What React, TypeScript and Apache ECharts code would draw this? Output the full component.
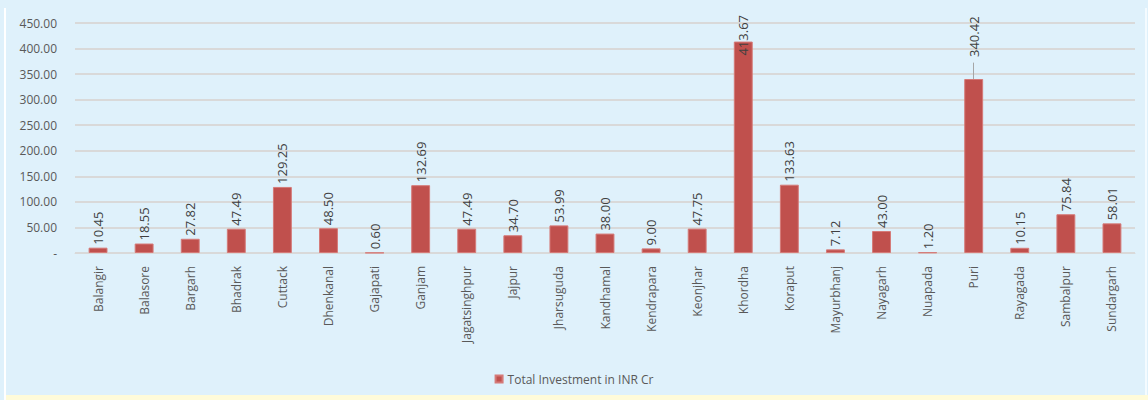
import React, { useEffect, useRef } from "react";
import * as echarts from "echarts";

const categories = [
  "Balangir", "Balasore", "Bargarh", "Bhadrak", "Cuttack", "Dhenkanal", "Gajapati",
  "Ganjam", "Jagatsinghpur", "Jajpur", "Jharsuguda", "Kandhamal", "Kendrapara",
  "Keonjhar", "Khordha", "Koraput", "Mayurbhanj", "Nayagarh", "Nuapada", "Puri",
  "Rayagada", "Sambalpur", "Sundargarh",
];
const investment = [
  10.45, 18.55, 27.82, 47.49, 129.25, 48.5, 0.6, 132.69, 47.49, 34.7, 53.99, 38.0,
  9.0, 47.75, 413.67, 133.63, 7.12, 43.0, 1.2, 340.42, 10.15, 75.84, 58.01,
];
const seriesName = "Total Investment in INR Cr";
// label distance adjustments (Excel moved these two labels)
const labelDistance: Record<string, number> = { Khordha: -14, Puri: 22 };

export default function App() {
  const ref = useRef<HTMLDivElement>(null);
  useEffect(() => {
    document.body.style.margin = "0";
    const chart = echarts.init(ref.current!, null, { renderer: "svg" });
    const font = "'Open Sans', Calibri, sans-serif";
    const data = investment.map((v, i) => {
      const d = labelDistance[categories[i]];
      return d === undefined ? v : { value: v, label: { distance: d } };
    });
    chart.setOption({
      animation: false,
      backgroundColor: "#dff1fb",
      textStyle: { fontFamily: font },
      graphic: [
        { type: "rect", shape: { x: 4, y: 8, width: 2, height: 392 }, style: { fill: "#ffffff" }, z: 0 },
        { type: "rect", shape: { x: 1145, y: 8, width: 2, height: 392 }, style: { fill: "#f4fbff" }, z: 0 },
        { type: "rect", shape: { x: 6, y: 395, width: 1142, height: 5 }, style: { fill: "#fffbd9" }, z: 0 },
      ],
      grid: { left: 75, right: 13, top: 23, bottom: 147, containLabel: false },
      legend: {
        bottom: 10,
        left: "center",
        itemWidth: 7,
        itemHeight: 7,
        icon: "rect",
        textStyle: { color: "#595959", fontSize: 12, fontFamily: font },
        data: [seriesName],
      },
      xAxis: {
        type: "category",
        data: categories,
        axisLine: { show: true, lineStyle: { color: "#d9d9d9", width: 1 } },
        axisTick: { show: false },
        axisLabel: {
          rotate: 90,
          interval: 0,
          color: "#595959",
          fontSize: 12,
          margin: 13,
          fontFamily: font,
        },
      },
      yAxis: {
        type: "value",
        min: 0,
        max: 450,
        interval: 50,
        axisLine: { show: false },
        axisTick: { show: false },
        splitLine: { lineStyle: { color: "#d9d9d9", width: 2 } },
        axisLabel: {
          color: "#595959",
          fontSize: 12,
          margin: 18,
          fontFamily: font,
          formatter: (v: number) => (v === 0 ? "-" : v.toFixed(2)),
        },
      },
      series: [
        {
          name: seriesName,
          type: "bar",
          data,
          barWidth: "41%",
          itemStyle: { color: "#c0504d", borderColor: "#d57a78", borderWidth: 1 },
          label: {
            show: true,
            position: "top",
            rotate: 90,
            align: "left",
            verticalAlign: "middle",
            distance: 3,
            color: "#404040",
            fontSize: 13,
            fontFamily: font,
            formatter: (p: any) => Number(p.value).toFixed(2),
          },
          markLine: {
            silent: true,
            symbol: "none",
            label: { show: false },
            lineStyle: { color: "#a6a6a6", width: 1, type: "solid" },
            data: [
              [
                { xAxis: "Puri", yAxis: investment[19] },
                { xAxis: "Puri", yAxis: investment[19] + 32 },
              ],
            ],
          },
        },
      ],
    });
    return () => chart.dispose();
  }, []);
  return <div ref={ref} style={{ width: 1148, height: 400 }} />;
}
